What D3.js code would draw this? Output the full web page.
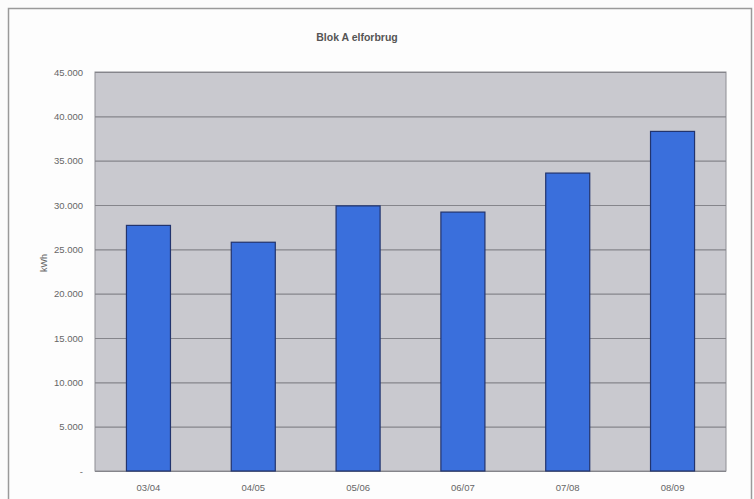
<!DOCTYPE html>
<html>
<head>
<meta charset="utf-8">
<script src="https://cdn.jsdelivr.net/npm/d3@7"></script>
<style>
  body { margin: 0; background: #fcfcfc; }
  svg { display: block; font-family: "Liberation Sans", Arial, sans-serif; }
</style>
</head>
<body>
<div id="chart"></div>
<script>
var seasons = ["03/04", "04/05", "05/06", "06/07", "07/08", "08/09"];
var kwh = [27700, 25800, 29900, 29200, 33600, 38300];
var yTicks = [0, 5000, 10000, 15000, 20000, 25000, 30000, 35000, 40000, 45000];

var width = 754,
    height = 499;
var margin = { top: 72, right: 28, bottom: 28, left: 95 };

function fmt(v) {
    if (v === 0) return "-";
    return v.toString().replace(/\B(?=(\d{3})+(?!\d))/g, ".");
}

var svg = d3.select("#chart").append("svg").attr("width", width).attr("height", height);

// outer chart frame (bottom is cut off in the scan)
svg.append("rect").attr("x", 8.5).attr("y", 8.5).attr("width", 743).attr("height", 500)
    .attr("fill", "#fdfdfd").attr("stroke", "#9a9a9a").attr("stroke-width", 1.5);

var x = d3.scaleBand().domain(seasons)
    .range([margin.left, width - margin.right])
    .paddingInner(0.58).paddingOuter(0.3);
var y = d3.scaleLinear().domain([0, 45000]).range([height - margin.bottom, margin.top]);

// plot area
svg.append("rect").attr("x", margin.left).attr("y", margin.top)
    .attr("width", width - margin.right - margin.left)
    .attr("height", height - margin.bottom - margin.top)
    .attr("fill", "#c9c9cf").attr("stroke", "#8e8e94").attr("stroke-width", 1);

// gridlines
svg.append("g").attr("transform", "translate(" + margin.left + ",0)")
    .call(d3.axisLeft(y).tickValues(yTicks).tickSize(-(width - margin.right - margin.left)).tickFormat(""))
    .call(function(g) {
        g.select(".domain").remove();
        g.selectAll("line").attr("stroke", "#85858b").attr("stroke-width", 1.2);
    });

// y labels
svg.append("g").attr("transform", "translate(" + margin.left + ",0)")
    .call(d3.axisLeft(y).tickValues(yTicks).tickSize(0).tickPadding(12).tickFormat(fmt))
    .call(function(g) {
        g.select(".domain").remove();
        g.selectAll("text").attr("fill", "#666").style("font-size", "9.5px");
    });

// bars
svg.selectAll(".bar").data(kwh).enter().append("rect")
    .attr("class", "bar")
    .attr("x", function(d, i) { return x(seasons[i]); })
    .attr("y", function(d) { return y(d); })
    .attr("width", x.bandwidth())
    .attr("height", function(d) { return y(0) - y(d); })
    .attr("fill", "#3a6fdc").attr("stroke", "#22346e").attr("stroke-width", 1.2);

// x labels
svg.append("g").attr("transform", "translate(0," + (height - margin.bottom) + ")")
    .call(d3.axisBottom(x).tickSize(0).tickPadding(13))
    .call(function(g) {
        g.select(".domain").remove();
        g.selectAll("text").attr("fill", "#666").style("font-size", "9.5px");
    });

// title
svg.append("text").attr("x", 357).attr("y", 41).attr("text-anchor", "middle")
    .style("font-size", "10.5px").style("font-weight", "bold").attr("fill", "#555")
    .text("Blok A elforbrug");

// y axis title
svg.append("text").attr("transform", "translate(47,263) rotate(-90)")
    .attr("text-anchor", "middle").style("font-size", "9px").attr("fill", "#666")
    .text("kWh");
</script>
</body>
</html>
